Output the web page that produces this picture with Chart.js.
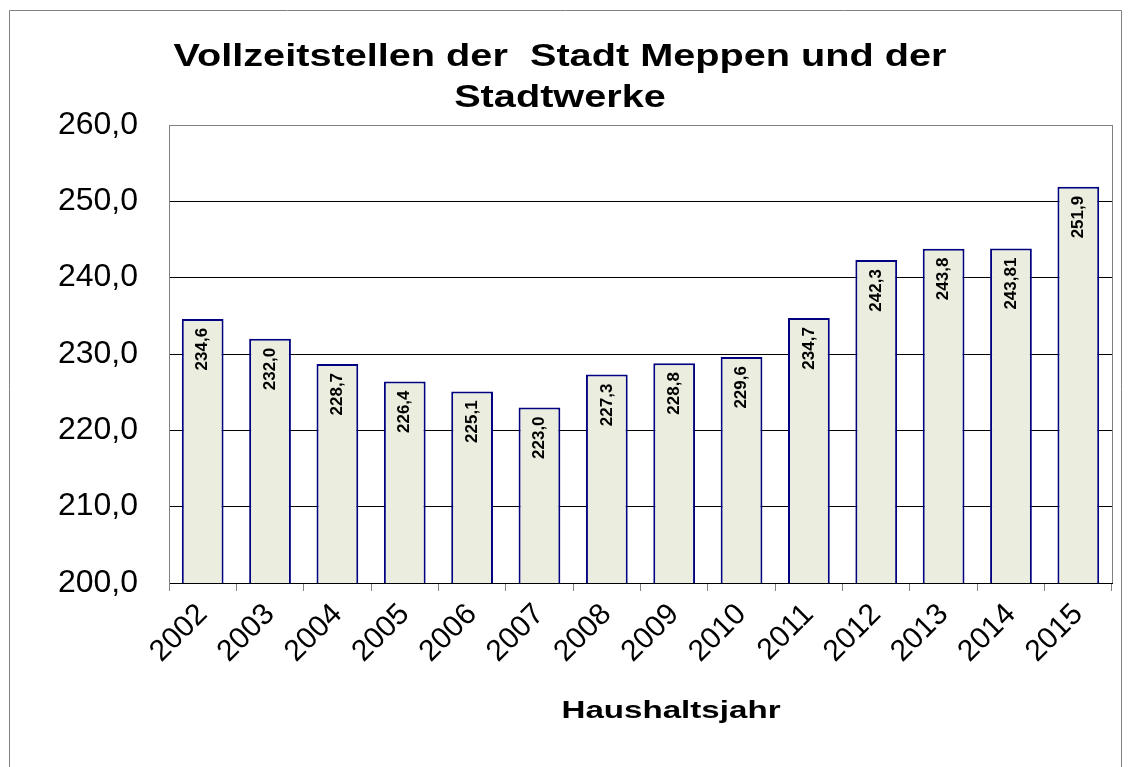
<!DOCTYPE html>
<html>
<head>
<meta charset="utf-8">
<script src="https://cdn.jsdelivr.net/npm/chart.js@4/dist/chart.umd.min.js"></script>
<style>
  body { margin: 0; background: #fff; }
  canvas { display: block; }
</style>
</head>
<body>
<canvas id="chart" width="1129" height="767"></canvas>
<script>
const jahre = ["2002", "2003", "2004", "2005", "2006", "2007", "2008", "2009", "2010", "2011", "2012", "2013", "2014", "2015"];
const stellen = [234.6, 232.0, 228.7, 226.4, 225.1, 223.0, 227.3, 228.8, 229.6, 234.7, 242.3, 243.8, 243.81, 251.9];
const titelZeilen = ["Vollzeitstellen der  Stadt Meppen und der", "Stadtwerke"];
const achsenTitel = "Haushaltsjahr";
const yMin = 200;
const yMax = 260;
const yStep = 10;

const SCHRIFT = "'Liberation Sans', Arial, sans-serif";

function deutsch(v, stellenNachKomma) {
  return v.toFixed(stellenNachKomma).replace(".", ",");
}

function labelText(v) {
  const dez = Math.round(v * 100) % 10 === 0 ? 1 : 2;
  return deutsch(v, dez);
}

// breiter gezogener Text, wie im Original (Excel-Export)
function breitText(ctx, text, cx, baseline, font, streckung) {
  ctx.save();
  ctx.font = font;
  ctx.fillStyle = "#000";
  ctx.textAlign = "center";
  ctx.textBaseline = "alphabetic";
  ctx.translate(cx, baseline);
  ctx.scale(streckung, 1);
  ctx.fillText(text, 0, 0);
  ctx.restore();
}

const rahmenPlugin = {
  id: "rahmen",
  beforeDraw(chart) {
    const ctx = chart.ctx;
    ctx.save();
    ctx.fillStyle = "#fff";
    ctx.fillRect(0, 0, chart.width, chart.height);
    ctx.strokeStyle = "#808080";
    ctx.lineWidth = 1;
    ctx.beginPath();
    ctx.moveTo(9.5, 800);
    ctx.lineTo(9.5, 10.5);
    ctx.lineTo(1121.5, 10.5);
    ctx.lineTo(1121.5, 800);
    ctx.stroke();
    ctx.restore();
  },
  beforeDatasetsDraw(chart) {
    const a = chart.chartArea;
    const ctx = chart.ctx;
    ctx.save();
    ctx.strokeStyle = "#808080";
    ctx.lineWidth = 1;
    ctx.beginPath();
    ctx.moveTo(Math.round(a.right) + 0.5, a.top);
    ctx.lineTo(Math.round(a.right) + 0.5, a.bottom);
    ctx.stroke();
    ctx.restore();
  },
  afterDraw(chart) {
    const ctx = chart.ctx;
    breitText(ctx, titelZeilen[0], 560, 66, "bold 32px " + SCHRIFT, 1.24);
    breitText(ctx, titelZeilen[1], 560, 107, "bold 32px " + SCHRIFT, 1.24);
    breitText(ctx, achsenTitel, 671, 718, "bold 24px " + SCHRIFT, 1.38);
  }
};

const wertePlugin = {
  id: "werte",
  afterDatasetsDraw(chart) {
    const ctx = chart.ctx;
    const meta = chart.getDatasetMeta(0);
    ctx.save();
    ctx.fillStyle = "#000";
    ctx.font = "bold 17px " + SCHRIFT;
    ctx.textAlign = "right";
    ctx.textBaseline = "middle";
    meta.data.forEach((bar, i) => {
      ctx.save();
      ctx.translate(bar.x, bar.y + 9);
      ctx.rotate(-Math.PI / 2);
      ctx.fillText(labelText(stellen[i]), 0, 0);
      ctx.restore();
    });
    ctx.restore();
  }
};

Chart.defaults.font.family = SCHRIFT;
Chart.defaults.color = "#000";

new Chart(document.getElementById("chart"), {
  type: "bar",
  data: {
    labels: jahre,
    datasets: [{
      data: stellen,
      backgroundColor: "#EBEEDE",
      borderColor: "#000080",
      borderWidth: 2,
      borderSkipped: false,
      categoryPercentage: 1,
      barPercentage: 0.62
    }]
  },
  options: {
    responsive: false,
    animation: false,
    layout: { padding: { left: 0, right: 17, top: 125, bottom: 0 } },
    plugins: {
      legend: { display: false },
      tooltip: { enabled: false },
      title: { display: false }
    },
    scales: {
      x: {
        afterFit(scale) { scale.height = 184; },
        grid: {
          drawOnChartArea: false,
          drawTicks: true,
          tickLength: 8,
          color: "#808080"
        },
        border: { color: "#000", width: 1 },
        ticks: {
          autoSkip: false,
          minRotation: 45,
          maxRotation: 45,
          padding: 6,
          font: { size: 30 }
        }
      },
      y: {
        min: yMin,
        max: yMax,
        afterFit(scale) { scale.width = 169; },
        grid: {
          drawTicks: false,
          color: (c) => (c.tick && c.tick.value === yMax ? "#808080" : "#000")
        },
        border: { color: "#808080", width: 1 },
        ticks: {
          stepSize: yStep,
          padding: 31,
          font: { size: 32 },
          callback: (v) => deutsch(v, 1)
        }
      }
    }
  },
  plugins: [rahmenPlugin, wertePlugin]
});
</script>
</body>
</html>
